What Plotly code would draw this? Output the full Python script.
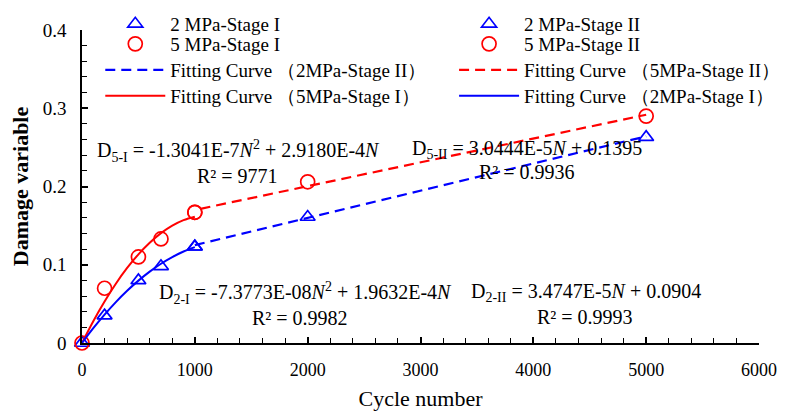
import plotly.graph_objects as go

# ---- data ----
n_stage1 = [0, 200, 500, 700, 1000]
d2_stage1 = [0, 0.035, 0.080, 0.098, 0.123]
d5_stage1 = [0, 0.070, 0.110, 0.133, 0.167]

n_stage2 = [1000, 2000, 5000]
d2_stage2 = [0.123, 0.161, 0.263]
d5_stage2 = [0.167, 0.206, 0.290]

# fitting curves
n_fit1 = [0, 100, 200, 300, 400, 500, 600, 700, 800, 900, 1000]
fit2_stage1 = [0, 0.0189, 0.0363, 0.0523, 0.0667, 0.0797, 0.0912, 0.1013, 0.1098, 0.1169, 0.1225]
fit5_stage1 = [0, 0.0279, 0.0531, 0.0758, 0.0959, 0.1133, 0.1281, 0.1404, 0.1500, 0.1570, 0.1614]
n_fit2_blue = [1000, 5000]
fit2_stage2 = [0.1251, 0.2641]
n_fit2_red = [1050, 5000]
fit5_stage2 = [0.1715, 0.2917]

x_ticks = [0, 1000, 2000, 3000, 4000, 5000, 6000]
y_ticks = [0, 0.1, 0.2, 0.3, 0.4]
y_ticklabels = ["0", "0.1", "0.2", "0.3", "0.4"]

FONT = "Liberation Serif, Times New Roman, serif"
BLUE = "#0000FF"
RED = "#FF0000"

fig = go.Figure()
fig.add_trace(go.Scatter(x=n_stage1, y=d2_stage1, mode="markers", name="2 MPa-Stage I", legend="legend",
                         marker=dict(symbol="triangle-up-open", size=13, color=BLUE, line=dict(width=1.7)),
                         cliponaxis=False))
fig.add_trace(go.Scatter(x=n_stage2, y=d2_stage2, mode="markers", name="2 MPa-Stage II", legend="legend2",
                         marker=dict(symbol="triangle-up-open", size=13, color=BLUE, line=dict(width=1.7)),
                         cliponaxis=False))
fig.add_trace(go.Scatter(x=n_stage1, y=d5_stage1, mode="markers", name="5 MPa-Stage I", legend="legend3",
                         marker=dict(symbol="circle-open", size=14, color=RED, line=dict(width=1.7)),
                         cliponaxis=False))
fig.add_trace(go.Scatter(x=n_stage2, y=d5_stage2, mode="markers", name="5 MPa-Stage II", legend="legend4",
                         marker=dict(symbol="circle-open", size=14, color=RED, line=dict(width=1.7)),
                         cliponaxis=False))
fig.add_trace(go.Scatter(x=n_fit2_blue, y=fit2_stage2, mode="lines", name="Fitting Curve （2MPa-Stage II）",
                         legend="legend5", line=dict(color=BLUE, width=2.2, dash="10px,6px")))
fig.add_trace(go.Scatter(x=n_fit2_red, y=fit5_stage2, mode="lines", name="Fitting Curve （5MPa-Stage II）",
                         legend="legend6", line=dict(color=RED, width=2.2, dash="10px,6px")))
fig.add_trace(go.Scatter(x=n_fit1, y=fit5_stage1, mode="lines", name="Fitting Curve （5MPa-Stage I）",
                         legend="legend7", line=dict(color=RED, width=2, shape="spline")))
fig.add_trace(go.Scatter(x=n_fit1, y=fit2_stage1, mode="lines", name="Fitting Curve （2MPa-Stage I）",
                         legend="legend8", line=dict(color=BLUE, width=2, shape="spline")))

ann_font = dict(family=FONT, size=20, color="black")
annotations = [
    dict(x=1383, y=0.245, text="D<sub>5-I</sub> = -1.3041E-7<i>N</i><sup>2</sup> + 2.9180E-4<i>N</i>"),
    dict(x=1374, y=0.213, text="R² = 9771"),
    dict(x=3945, y=0.247, text="D<sub>5-II</sub> = 3.0444E-5<i>N</i> + 0.1395"),
    dict(x=3945, y=0.218, text="R² = 0.9936"),
    dict(x=1977, y=0.064, text="D<sub>2-I</sub> = -7.3773E-08<i>N</i><sup>2</sup> + 1.9632E-4<i>N</i>"),
    dict(x=1933, y=0.032, text="R² = 0.9982"),
    dict(x=4468, y=0.064, text="D<sub>2-II</sub> = 3.4747E-5<i>N</i> + 0.0904"),
    dict(x=4459, y=0.033, text="R² = 0.9993"),
]
for a in annotations:
    fig.add_annotation(x=a["x"], y=a["y"], text=a["text"], xref="x", yref="y",
                       showarrow=False, font=ann_font, xanchor="center", yanchor="middle")

legend_common = dict(orientation="v", yanchor="top", xanchor="left",
                     font=dict(family=FONT, size=19, color="black"),
                     bgcolor="rgba(0,0,0,0)", itemwidth=60)
col_x = [0.027, 0.5496]
row_y = [1.0799, 1.016, 0.9329, 0.8498]
legends = {}
for i in range(8):
    key = "legend" if i == 0 else f"legend{i + 1}"
    legends[key] = dict(x=col_x[i % 2], y=row_y[i // 2], **legend_common)

fig.update_layout(
    width=785, height=411,
    margin=dict(l=82, r=26, t=30, b=68, autoexpand=False),
    paper_bgcolor="white", plot_bgcolor="white",
    font=dict(family=FONT, size=18, color="black"),
    showlegend=True,
    **legends,
    xaxis=dict(range=[0, 6000], tickvals=x_ticks, ticktext=[str(v) for v in x_ticks],
               showline=True, linecolor="black", linewidth=1.5,
               ticks="inside", ticklen=6, tickwidth=1.5, tickcolor="black",
               minor=dict(dtick=200, ticks="inside", ticklen=5, tickwidth=1.2, tickcolor="black"),
               showgrid=False, zeroline=False, ticklabelstandoff=10,
               tickfont=dict(family=FONT, size=18),
               title=dict(text="Cycle number", font=dict(family=FONT, size=22), standoff=12)),
    yaxis=dict(range=[0, 0.4], tickvals=y_ticks, ticktext=y_ticklabels,
               showline=True, linecolor="black", linewidth=1.5,
               ticks="inside", ticklen=6, tickwidth=1.5, tickcolor="black",
               minor=dict(dtick=0.02, ticks="inside", ticklen=5, tickwidth=1.2, tickcolor="black"),
               showgrid=False, zeroline=False, ticklabelstandoff=10,
               tickfont=dict(family=FONT, size=19),
               title=dict(text="<b>Damage variable</b>", font=dict(family=FONT, size=22), standoff=8)),
)

fig.write_html("out.html")
